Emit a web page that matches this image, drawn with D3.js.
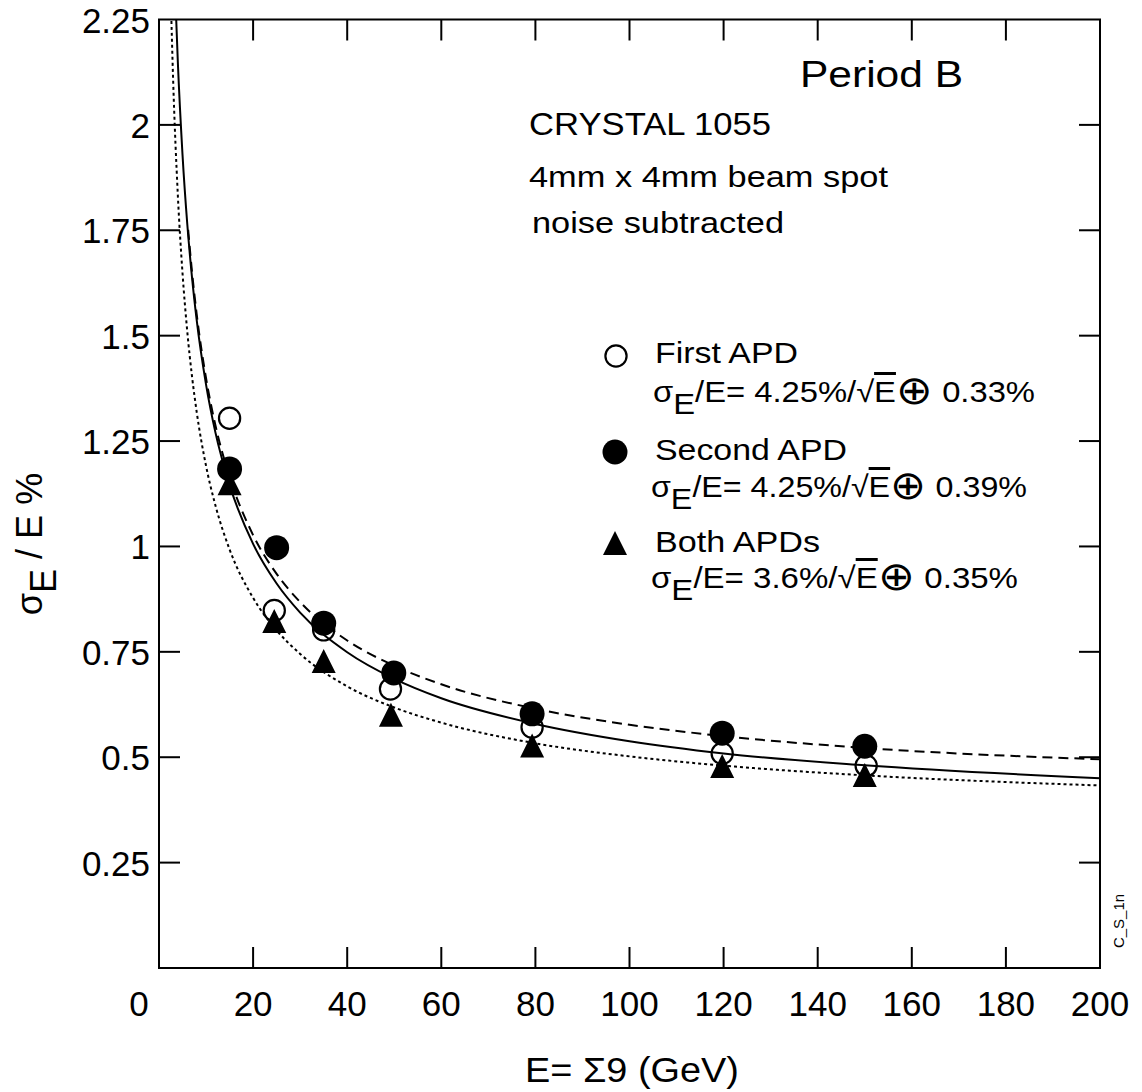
<!DOCTYPE html>
<html>
<head>
<meta charset="utf-8">
<script src="https://cdn.jsdelivr.net/npm/d3@7"></script>
<style>
  body { margin: 0; background: #fff; }
  text { font-family: "Liberation Sans", Arial, Helvetica, sans-serif; fill: #000; }
</style>
</head>
<body>
<div id="chart"></div>
<script>
// axis ticks
const xTicks = [0, 20, 40, 60, 80, 100, 120, 140, 160, 180, 200];
const yTicks = [0.25, 0.5, 0.75, 1, 1.25, 1.5, 1.75, 2, 2.25];
const yTickLabels = ["0.25", "0.5", "0.75", "1", "1.25", "1.5", "1.75", "2", "2.25"];

const firstE = [15, 24.5, 35, 49.2, 79.3, 119.7, 150.3];
const firstRes = [1.304, 0.848, 0.802, 0.662, 0.571, 0.509, 0.480];
const secondE = [15, 25, 35, 49.9, 79.3, 119.7, 150];
const secondRes = [1.184, 0.997, 0.818, 0.700, 0.603, 0.557, 0.526];
const bothE = [15, 24.5, 35, 49.3, 79.3, 119.7, 150];
const bothRes = [1.150, 0.823, 0.728, 0.601, 0.528, 0.479, 0.458];

// fitted curves, sampled off the plot
const solidE = [3.5, 4, 5, 6, 7, 8, 10, 12, 15, 20, 25, 30, 40, 50, 60, 80, 100, 120, 150, 200];
const solidRes = [2.296, 2.150, 1.929, 1.766, 1.640, 1.538, 1.384, 1.270, 1.146, 1.006, 0.912, 0.843, 0.749, 0.686, 0.640, 0.579, 0.538, 0.509, 0.481, 0.450];
const dashE = [6.2, 7, 8, 10, 12, 15, 20, 25, 30, 40, 50, 60, 80, 100, 120, 150, 200];
const dashRes = [1.751, 1.653, 1.552, 1.399, 1.287, 1.165, 1.027, 0.935, 0.868, 0.777, 0.717, 0.673, 0.615, 0.577, 0.550, 0.522, 0.495];
const dotE = [2.5, 3, 4, 5, 6, 7, 8, 10, 12, 15, 20, 25, 30, 40, 50, 60, 80, 100, 120, 150, 200];
const dotRes = [2.304, 2.108, 1.834, 1.648, 1.511, 1.405, 1.320, 1.191, 1.097, 0.993, 0.878, 0.801, 0.745, 0.668, 0.618, 0.582, 0.533, 0.502, 0.480, 0.457, 0.433];

const legendNames = ["First APD", "Second APD", "Both APDs"];
const legendStoch = ["4.25", "4.25", "3.6"];
const legendConst = ["0.33", "0.39", "0.35"];

const width = 1142, height = 1092;
const x = d3.scaleLinear().domain([0, 200]).range([159, 1100]);
const y = d3.scaleLinear().domain([0, 2.25]).range([968, 19.5]);
const tickLen = 21;

const svg = d3.select('#chart').append('svg')
  .attr('width', width)
  .attr('height', height);

svg.append('defs').append('clipPath').attr('id', 'plot')
  .append('rect')
  .attr('x', x(0)).attr('y', y(2.25))
  .attr('width', x(200) - x(0)).attr('height', y(0) - y(2.25));

// fit texts to the widths seen in the reference
function fit(sel, len) {
  sel.attr('textLength', len).attr('lengthAdjust', 'spacingAndGlyphs');
  return sel;
}

// frame
svg.append('rect')
  .attr('x', x(0)).attr('y', y(2.25))
  .attr('width', x(200) - x(0)).attr('height', y(0) - y(2.25))
  .attr('fill', 'none').attr('stroke', '#000').attr('stroke-width', 2);

// ticks on all four sides
const ticks = svg.append('g').attr('stroke', '#000').attr('stroke-width', 2);
xTicks.slice(1, -1).forEach(t => {
  ticks.append('line').attr('x1', x(t)).attr('x2', x(t)).attr('y1', y(0)).attr('y2', y(0) - tickLen);
  ticks.append('line').attr('x1', x(t)).attr('x2', x(t)).attr('y1', y(2.25)).attr('y2', y(2.25) + tickLen);
});
yTicks.slice(0, -1).forEach(t => {
  ticks.append('line').attr('x1', x(0)).attr('x2', x(0) + tickLen).attr('y1', y(t)).attr('y2', y(t));
  ticks.append('line').attr('x1', x(200)).attr('x2', x(200) - tickLen).attr('y1', y(t)).attr('y2', y(t));
});

// tick labels
svg.append('g').selectAll('text')
  .data(xTicks)
  .enter()
  .append('text')
  .attr('x', d => d === 0 ? x(d) - 20 : x(d))
  .attr('y', 1016)
  .attr('text-anchor', 'middle')
  .attr('font-size', 35)
  .text(d => d);

svg.append('g').selectAll('text')
  .data(yTicks)
  .enter()
  .append('text')
  .attr('x', 150)
  .attr('y', d => y(d) + 13)
  .attr('text-anchor', 'end')
  .attr('font-size', 35)
  .text((d, i) => yTickLabels[i]);

// axis titles
fit(svg.append('text')
  .attr('x', 525).attr('y', 1082)
  .attr('font-size', 35)
  .text('E= Σ9 (GeV)'), 214);

const yTitle = svg.append('text')
  .attr('transform', 'translate(42,544) rotate(-90)')
  .attr('text-anchor', 'middle')
  .attr('font-size', 36);
yTitle.append('tspan').text('σ');
yTitle.append('tspan').attr('dy', 14).text('E');
yTitle.append('tspan').attr('dy', -14).text(' / E %');

// curves
const line = d3.line()
  .x(d => x(d[0]))
  .y(d => y(d[1]))
  .curve(d3.curveMonotoneX);

const curves = svg.append('g').attr('clip-path', 'url(#plot)')
  .attr('fill', 'none').attr('stroke', '#000').attr('stroke-width', 2);
curves.append('path').attr('d', line(solidE.map((e, i) => [e, solidRes[i]])));
curves.append('path').attr('d', line(dashE.map((e, i) => [e, dashRes[i]])))
  .attr('stroke-dasharray', '10,6');
curves.append('path').attr('d', line(dotE.map((e, i) => [e, dotRes[i]])))
  .attr('stroke-dasharray', '3,3');

// markers
function triPath(s) {
  return `M0,${-s / 2}L${s / 2},${s / 2}L${-s / 2},${s / 2}Z`;
}

const pts = svg.append('g');
pts.selectAll('.tri')
  .data(bothE.map((e, i) => [e, bothRes[i]]))
  .enter()
  .append('path')
  .attr('class', 'tri')
  .attr('transform', d => `translate(${x(d[0])},${y(d[1])})`)
  .attr('d', triPath(24))
  .attr('fill', '#000');

pts.selectAll('.open')
  .data(firstE.map((e, i) => [e, firstRes[i]]))
  .enter()
  .append('circle')
  .attr('class', 'open')
  .attr('cx', d => x(d[0]))
  .attr('cy', d => y(d[1]))
  .attr('r', 10.6)
  .attr('fill', 'none')
  .attr('stroke', '#000')
  .attr('stroke-width', 2.2);

pts.selectAll('.filled')
  .data(secondE.map((e, i) => [e, secondRes[i]]))
  .enter()
  .append('circle')
  .attr('class', 'filled')
  .attr('cx', d => x(d[0]))
  .attr('cy', d => y(d[1]))
  .attr('r', 12.5)
  .attr('fill', '#000');

// labels top right
fit(svg.append('text').attr('x', 800).attr('y', 87).attr('font-size', 37).text('Period B'), 163);
fit(svg.append('text').attr('x', 529).attr('y', 135).attr('font-size', 31).text('CRYSTAL 1055'), 242);
fit(svg.append('text').attr('x', 529).attr('y', 187).attr('font-size', 30).text('4mm x 4mm beam spot'), 359);
fit(svg.append('text').attr('x', 532).attr('y', 233).attr('font-size', 30).text('noise subtracted'), 252);

// legend
const leg = svg.append('g');
leg.append('circle').attr('cx', 616).attr('cy', 356).attr('r', 10.6)
  .attr('fill', 'none').attr('stroke', '#000').attr('stroke-width', 2.2);
leg.append('circle').attr('cx', 615).attr('cy', 452).attr('r', 12.5).attr('fill', '#000');
leg.append('path').attr('transform', 'translate(615,543)').attr('d', triPath(24)).attr('fill', '#000');

const nameY = [363, 460, 552];
const nameW = [143, 192, 165];
const formY = [402, 497, 588];
const formX = [653, 651, 651];
const formW = [382, 376, 367];

legendNames.forEach((n, i) => {
  fit(leg.append('text').attr('x', 655).attr('y', nameY[i]).attr('font-size', 30).text(n), nameW[i]);
  const f = leg.append('text').attr('x', formX[i]).attr('y', formY[i]).attr('font-size', 30);
  f.append('tspan').text('σ');
  f.append('tspan').attr('dy', 12).text('E');
  f.append('tspan').attr('dy', -12).text(`/E= ${legendStoch[i]}%/√`);
  f.append('tspan').style('text-decoration', 'overline').text('E');
  f.append('tspan').attr('font-size', 40).attr('dy', 2).text('⊕');
  f.append('tspan').attr('dy', -2).text(` ${legendConst[i]}%`);
  fit(f, formW[i]);
});

// plot id
svg.append('text')
  .attr('transform', 'translate(1124,921) rotate(-90)')
  .attr('text-anchor', 'middle')
  .attr('font-size', 15)
  .text('C_S_1n');
</script>
</body>
</html>
